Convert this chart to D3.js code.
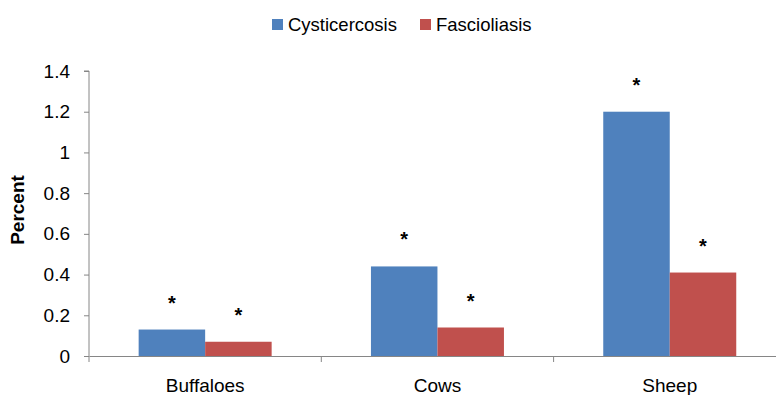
<!DOCTYPE html>
<html><head><meta charset="utf-8">
<script src="https://cdn.jsdelivr.net/npm/d3@7"></script>
<style>body{margin:0;background:#fff}svg{display:block;font-family:"Liberation Sans",Arial,sans-serif}</style>
</head><body><svg id="c" width="776" height="395"></svg>
<script>
const categories = ["Buffaloes", "Cows", "Sheep"];
const seriesNames = ["Cysticercosis", "Fascioliasis"];
const cysticercosis = [0.13, 0.44, 1.2];
const fascioliasis = [0.07, 0.14, 0.41];
const yTicks = [0, 0.2, 0.4, 0.6, 0.8, 1, 1.2, 1.4];
const colors = ["#4F81BD", "#C0504D"];

const svg = d3.select("#c");
const plotLeft = 89, plotBottom = 356, plotTop = 71, band = 232.3;
const x0 = d3.scaleBand().domain(categories).range([plotLeft, plotLeft + band * categories.length]).padding(0);
const groupW = 133;
const x1 = d3.scaleBand().domain(seriesNames).range([0, groupW]).padding(0);
const y = d3.scaleLinear().domain([0, 1.4]).range([plotBottom, plotTop]);

const data = categories.map((c, i) => ({cat: c, vals: [cysticercosis[i], fascioliasis[i]]}));

// Y axis
const yAxis = d3.axisLeft(y).tickValues(yTicks).tickSize(5).tickFormat(d => String(+d.toFixed(1)));
const gy = svg.append("g").attr("transform", `translate(${plotLeft},0)`).call(yAxis);
gy.select(".domain").attr("stroke", "#868686").attr("d", `M-5,${plotTop}H0V${plotBottom}`);
gy.selectAll(".tick line").attr("stroke", "#868686");
gy.selectAll(".tick text").attr("x", -19).attr("font-size", 19).attr("fill", "#000").attr("font-family", "Liberation Sans, Arial, sans-serif");

// X axis
const xAxis = d3.axisBottom(x0).tickSize(0).tickFormat("");
const gx = svg.append("g").attr("transform", `translate(0,${plotBottom})`).call(xAxis);
gx.select(".domain").attr("stroke", "#868686");
gx.selectAll(".tick").remove();
const bounds = categories.map(c => x0(c)).concat([x0(categories[categories.length - 1]) + x0.bandwidth()]);
gx.selectAll("line.b").data(bounds).enter().append("line").attr("class", "b")
  .attr("x1", d => d).attr("x2", d => d).attr("y1", 0).attr("y2", 6).attr("stroke", "#868686");

// Category labels
svg.selectAll("text.cat").data(categories).enter().append("text").attr("class", "cat")
  .attr("x", d => x0(d) + x0.bandwidth() / 2).attr("y", 392)
  .attr("text-anchor", "middle").attr("font-size", 19).text(d => d);

// Bars
const groups = svg.selectAll("g.grp").data(data).enter().append("g")
  .attr("transform", d => `translate(${x0(d.cat) + (x0.bandwidth() - groupW) / 2},0)`);
groups.selectAll("rect").data(d => d.vals.map((v, j) => ({s: seriesNames[j], v, j}))).enter().append("rect")
  .attr("x", d => x1(d.s)).attr("width", x1.bandwidth())
  .attr("y", d => y(d.v)).attr("height", d => plotBottom - y(d.v))
  .attr("fill", d => colors[d.j]);
groups.selectAll("text.ast").data(d => d.vals.map((v, j) => ({s: seriesNames[j], v, j}))).enter().append("text")
  .attr("class", "ast")
  .attr("x", d => x1(d.s) + x1.bandwidth() / 2).attr("y", d => y(d.v) - 31 + 11)
  .attr("text-anchor", "middle").attr("font-size", 20).attr("font-weight", "bold").text("*");

// Y title
svg.append("text").attr("transform", "translate(24,210) rotate(-90)")
  .attr("text-anchor", "middle").attr("font-size", 19).attr("font-weight", "bold").text("Percent");

// Legend
const legX = [272, 420];
seriesNames.forEach((s, i) => {
  svg.append("rect").attr("x", legX[i]).attr("y", 19).attr("width", 11).attr("height", 11).attr("fill", colors[i]);
  svg.append("text").attr("x", legX[i] + 16).attr("y", 31).attr("font-size", 18.5).text(s);
});
</script></body></html>
